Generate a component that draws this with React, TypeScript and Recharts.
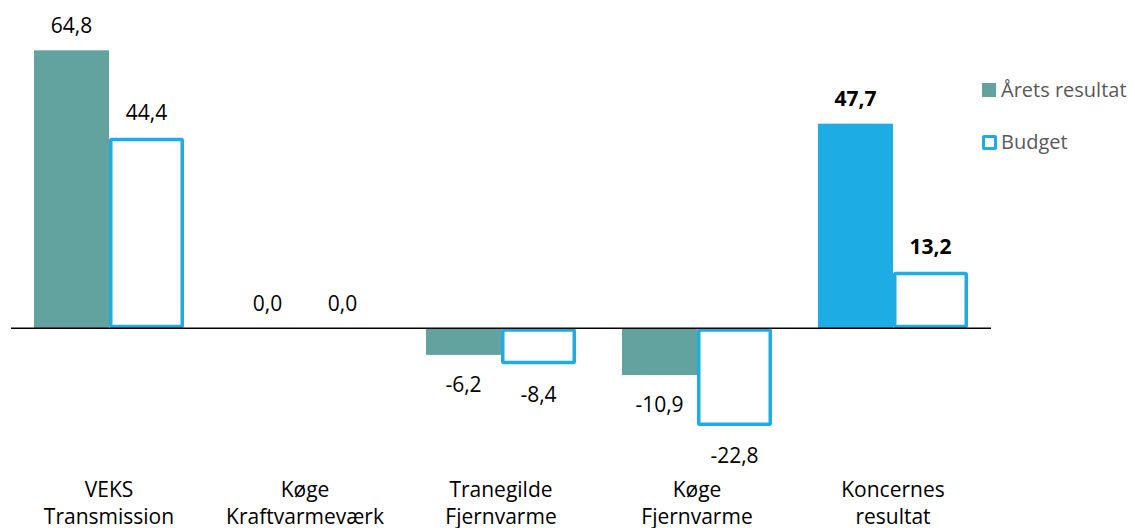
import React from "react"
import { Bar, BarChart, Cell, LabelList, Legend, ReferenceLine, XAxis, YAxis } from "recharts"

// Chart values
const categoryLabels = [
  "VEKS\nTransmission",
  "Køge\nKraftvarmeværk",
  "Tranegilde\nFjernvarme",
  "Køge\nFjernvarme",
  "Koncernes\nresultat",
]
const aretsResultat = [64.8, 0.0, -6.2, -10.9, 47.7]
const budget = [44.4, 0.0, -8.4, -22.8, 13.2]
const seriesNames = ["Årets resultat", "Budget"]

const TEAL = "#62A39F"
const BLUE = "#1EACE4"
const FONT = "'Open Sans', sans-serif"
const TOTAL_INDEX = categoryLabels.length - 1

const data = categoryLabels.map((name, i) => ({
  name,
  actual: aretsResultat[i],
  budget: budget[i],
}))

const fmt = (v: number) => v.toFixed(1).replace(".", ",")

const ValueLabel = (props: any) => {
  const { x, y, width, height, value, index } = props
  const top = Math.min(y, y + height)
  const bottom = Math.max(y, y + height)
  const cy = value < 0 ? bottom + 30 : top - 25
  return (
    <text
      x={x + width / 2}
      y={cy}
      dy="0.35em"
      textAnchor="middle"
      fontSize={21}
      fontFamily={FONT}
      fontWeight={index === TOTAL_INDEX ? 700 : 400}
      fill="#000"
    >
      {fmt(value)}
    </text>
  )
}

const SolidBar = (props: any) => {
  const { x, y, width, height, fill } = props
  const top = Math.min(y, y + height)
  const h = Math.abs(height)
  if (!h) return <g />
  return <rect x={x} y={top} width={width} height={h} fill={fill} />
}

const OutlineBar = (props: any) => {
  const { x, y, width, height } = props
  const sw = 3.5
  const top = Math.min(y, y + height)
  const h = Math.abs(height)
  if (h < sw) return <g />
  return (
    <rect
      x={x + sw / 2}
      y={top + sw / 2}
      width={width - sw}
      height={h - sw}
      rx={1}
      fill="#fff"
      stroke={BLUE}
      strokeWidth={sw}
    />
  )
}

const CategoryTick = (props: any) => {
  const { x, y, payload } = props
  const lines = String(payload.value).split("\n")
  return (
    <g>
      {lines.map((line, i) => (
        <text
          key={i}
          x={x}
          y={y + 25 + i * 27}
          dy="0.35em"
          textAnchor="middle"
          fontSize={21}
          fontFamily={FONT}
          fill="#000"
        >
          {line}
        </text>
      ))}
    </g>
  )
}

const LegendContent = () => (
  <div style={{ fontFamily: FONT, fontSize: 20, color: "#595959", lineHeight: "30px", whiteSpace: "nowrap" }}>
    <div style={{ display: "flex", alignItems: "center", height: 30 }}>
      <span style={{ width: 14, height: 14, background: TEAL, marginRight: 5 }} />
      <span>{seriesNames[0]}</span>
    </div>
    <div style={{ display: "flex", alignItems: "center", height: 30, marginTop: 22 }}>
      <span
        style={{
          width: 9,
          height: 9,
          border: `3.5px solid ${BLUE}`,
          borderRadius: 2,
          background: "#fff",
          marginRight: 4,
        }}
      />
      <span>{seriesNames[1]}</span>
    </div>
  </div>
)

export default function App() {
  return (
    <div style={{ width: 1127, height: 520, fontFamily: FONT }}>
      <style>{"html, body { overflow: hidden; }"}</style>
      <BarChart
        width={1127}
        height={520}
        data={data}
        margin={{ top: 20, right: 144, bottom: 11, left: 3 }}
        barCategoryGap={23}
        barGap={0}
      >
        <XAxis
          dataKey="name"
          axisLine={false}
          tickLine={false}
          height={60}
          interval={0}
          tick={<CategoryTick />}
        />
        <YAxis hide type="number" domain={[-30, 70]} />
        <ReferenceLine y={0} stroke="#000" strokeWidth={1.5} />
        <Legend
          layout="horizontal"
          verticalAlign="middle"
          align="center"
          wrapperStyle={{ top: 67, left: 974, width: 160 }}
          content={<LegendContent />}
        />
        <Bar
          dataKey="actual"
          name={seriesNames[0]}
          fill={TEAL}
          shape={<SolidBar />}
          isAnimationActive={false}
        >
          {data.map((_, i) => (
            <Cell key={i} fill={i === TOTAL_INDEX ? BLUE : TEAL} />
          ))}
          <LabelList dataKey="actual" content={<ValueLabel />} />
        </Bar>
        <Bar
          dataKey="budget"
          name={seriesNames[1]}
          fill="#fff"
          shape={<OutlineBar />}
          isAnimationActive={false}
        >
          <LabelList dataKey="budget" content={<ValueLabel />} />
        </Bar>
      </BarChart>
    </div>
  )
}
